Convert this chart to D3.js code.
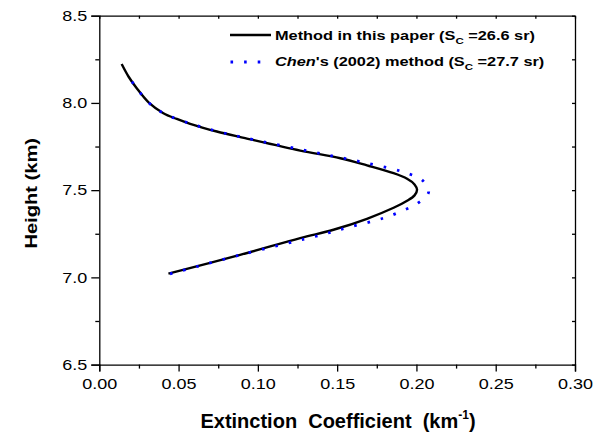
<!DOCTYPE html>
<html>
<head>
<meta charset="utf-8">
<script src="https://cdn.jsdelivr.net/npm/d3@7"></script>
<style>
  html, body { margin: 0; padding: 0; background: #fff; }
  svg { display: block; font-family: "Liberation Sans", Arial, sans-serif; }
  .axis path, .axis line { stroke: #000; stroke-width: 1.3; }
  .axis text { font-size: 15px; fill: #000; }
</style>
</head>
<body>
<div id="chart"></div>
<script>
// profiles, bottom to top (height in km, extinction in km^-1)
const heightThisPaper = [7.021, 7.129, 7.225, 7.273, 7.336, 7.399, 7.439, 7.470, 7.502, 7.533, 7.565, 7.597, 7.642, 7.683, 7.727, 7.798, 7.836, 7.880, 7.908, 7.941, 8.000, 8.084, 8.150, 8.223];
const extThisPaper    = [0.0436, 0.0888, 0.1267, 0.1477, 0.1688, 0.1856, 0.1941, 0.1988, 0.2004, 0.1988, 0.1941, 0.1856, 0.1688, 0.152, 0.1267, 0.092, 0.0741, 0.0573, 0.0489, 0.0404, 0.0314, 0.0236, 0.0185, 0.0141];

const heightChen = [7.02, 7.129, 7.244, 7.286, 7.326, 7.349, 7.381, 7.420, 7.489, 7.559, 7.597, 7.620, 7.655, 7.687, 7.718, 7.798, 7.836, 7.880, 7.941, 8.000, 8.084, 8.170];
const extChen    = [0.0446, 0.089, 0.140, 0.1568, 0.174, 0.1824, 0.1909, 0.1999, 0.2077, 0.2035, 0.1941, 0.1856, 0.1688, 0.152, 0.1351, 0.093, 0.075, 0.058, 0.0404, 0.0314, 0.0236, 0.0170];

const xMajor = [0, 0.05, 0.10, 0.15, 0.20, 0.25, 0.30];
const xMinor = [0.025, 0.075, 0.125, 0.175, 0.225, 0.275];
const yMajor = [6.5, 7.0, 7.5, 8.0, 8.5];
const yMinor = [6.75, 7.25, 7.75, 8.25];

const W = 602, H = 434;
const plot = { left: 99.3, right: 575, top: 15.7, bottom: 364.6 };

const svg = d3.select('#chart').append('svg')
  .attr('width', W).attr('height', H);

const x = d3.scaleLinear().domain([0, 0.30]).range([plot.left, plot.right]);
const y = d3.scaleLinear().domain([6.5, 8.5]).range([plot.bottom, plot.top]);

// bottom axis: labelled major ticks + short minor ticks, all outward
const xAxis = svg.append('g').attr('class', 'axis')
  .attr('transform', `translate(0,${plot.bottom})`)
  .call(d3.axisBottom(x).tickValues(xMajor).tickSize(7).tickPadding(7).tickFormat(d3.format('.2f')));
xAxis.selectAll('text').attr('transform', 'scale(1.2,1)');
svg.append('g').attr('class', 'axis')
  .attr('transform', `translate(0,${plot.bottom})`)
  .call(d3.axisBottom(x).tickValues(xMinor).tickSize(4).tickFormat(''))
  .select('.domain').remove();

// left axis
const yAxis = svg.append('g').attr('class', 'axis')
  .attr('transform', `translate(${plot.left},0)`)
  .call(d3.axisLeft(y).tickValues(yMajor).tickSize(8).tickPadding(4).tickFormat(d3.format('.1f')));
yAxis.selectAll('text').attr('x', 0).attr('transform', 'translate(-12,0) scale(1.2,1)');
svg.append('g').attr('class', 'axis')
  .attr('transform', `translate(${plot.left},0)`)
  .call(d3.axisLeft(y).tickValues(yMinor).tickSize(4).tickFormat(''))
  .select('.domain').remove();

// top and right frame with small inward ticks
svg.append('g').attr('class', 'axis')
  .attr('transform', `translate(0,${plot.top})`)
  .call(d3.axisTop(x).tickValues(xMajor.concat(xMinor)).tickSizeInner(-3).tickSizeOuter(0).tickFormat(''));
svg.append('g').attr('class', 'axis')
  .attr('transform', `translate(${plot.right},0)`)
  .call(d3.axisRight(y).tickValues(yMajor.concat(yMinor)).tickSizeInner(-3).tickSizeOuter(0).tickFormat(''));

// curves
const line = d3.line()
  .x(d => x(d[0]))
  .y(d => y(d[1]))
  .curve(d3.curveCatmullRom.alpha(0.5));

svg.append('path')
  .datum(d3.zip(extThisPaper, heightThisPaper))
  .attr('d', line)
  .attr('fill', 'none')
  .attr('stroke', '#000')
  .attr('stroke-width', 2.4);

svg.append('path')
  .datum(d3.zip(extChen, heightChen))
  .attr('d', line)
  .attr('fill', 'none')
  .attr('stroke', '#0000ff')
  .attr('stroke-width', 2.8)
  .attr('stroke-dasharray', '2.6 11');

// legend
const legend = svg.append('g');
legend.append('line')
  .attr('x1', 230).attr('x2', 271).attr('y1', 35).attr('y2', 35)
  .attr('stroke', '#000').attr('stroke-width', 2.4);
legend.append('line')
  .attr('x1', 230.5).attr('x2', 262).attr('y1', 62).attr('y2', 62)
  .attr('stroke', '#0000ff').attr('stroke-width', 2.8)
  .attr('stroke-dasharray', '2.6 11');

function legendText(yBase, parts) {
  const t = legend.append('text')
    .attr('transform', `translate(275,${yBase}) scale(1.21,1)`)
    .attr('font-size', 13.5).attr('font-weight', 'bold');
  parts.forEach(p => {
    const s = t.append('tspan').text(p.text);
    if (p.italic) s.attr('font-style', 'italic');
    if (p.sub) s.attr('font-size', 9.5).attr('dy', 4);
    if (p.after) s.attr('dy', -4);
  });
}
legendText(39.5, [
  { text: 'Method in this paper (S' },
  { text: 'C', sub: true },
  { text: '\u00a0=26.6 sr)', after: true }
]);
legendText(65.5, [
  { text: 'Chen', italic: true },
  { text: '\'s (2002) method (S' },
  { text: 'C', sub: true },
  { text: '\u00a0=27.7 sr)', after: true }
]);

// axis titles
const xt = svg.append('text')
  .attr('x', 338).attr('y', 427.7)
  .attr('text-anchor', 'middle')
  .attr('font-size', 20).attr('font-weight', 'bold');
xt.append('tspan').text('Extinction\u00a0\u00a0Coefficient\u00a0\u00a0(km');
xt.append('tspan').attr('font-size', 12).attr('dy', -9).text('-1');
xt.append('tspan').attr('dy', 9).text(')');

svg.append('text')
  .attr('transform', 'translate(36.5,193.3) rotate(-90) scale(1.22,1)')
  .attr('text-anchor', 'middle')
  .attr('font-size', 16.5).attr('font-weight', 'bold')
  .text('Height (km)');
</script>
</body>
</html>
